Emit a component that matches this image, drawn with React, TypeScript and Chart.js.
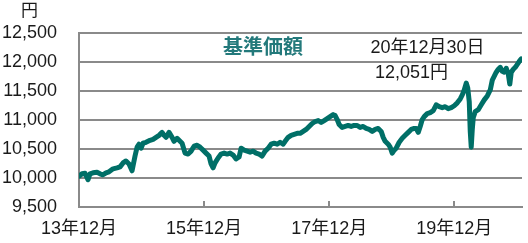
import React, { useEffect, useRef } from "react";
import { Chart, registerables } from "chart.js";

Chart.register(...registerables);

// x positions: months elapsed since 2013-12
const monthsSince201312: number[] = [
  0, 0.58, 1.15, 1.73, 2.11, 2.69, 3.46, 4.03, 4.61, 5.18, 5.76, 6.53, 7.3, 7.87, 8.45, 9.02, 9.6, 10.18,
  10.75, 11.14, 11.52, 11.9, 12.29, 12.86, 13.63, 14.21, 14.78, 15.36, 15.94, 16.32, 16.7, 17.28, 17.86,
  18.24, 18.82, 19.39, 19.78, 20.35, 20.93, 21.5, 22.08, 22.66, 23.23, 23.81, 24.38, 24.96, 25.34, 25.73,
  26.11, 26.69, 27.26, 27.84, 28.42, 28.99, 29.57, 30.14, 30.72, 31.1, 31.68, 32.26, 32.83, 33.41, 33.98,
  34.56, 35.14, 35.71, 36.29, 36.86, 37.44, 38.02, 38.59, 39.17, 39.55, 40.13, 40.7, 41.28, 41.86, 42.43,
  43.01, 43.58, 44.16, 44.74, 45.31, 45.89, 46.46, 47.04, 47.62, 48.19, 48.77, 49.15, 49.54, 49.92, 50.5,
  51.07, 51.65, 52.22, 52.8, 53.38, 53.95, 54.53, 55.1, 55.68, 56.26, 56.83, 57.41, 57.98, 58.37, 58.75,
  59.33, 59.71, 60.1, 60.48, 60.86, 61.44, 62.02, 62.59, 63.17, 63.74, 64.32, 64.7, 65.09, 65.47, 65.86,
  66.24, 66.82, 67.39, 67.97, 68.54, 69.12, 69.7, 70.27, 70.85, 71.42, 72.0, 72.58, 73.15, 73.54, 73.92,
  74.3, 74.59, 74.88, 75.07, 75.26, 75.46, 75.65, 76.03, 76.61, 77.18, 77.76, 78.34, 78.91, 79.3, 79.68,
  80.06, 80.45, 80.83, 81.22, 81.6, 81.98, 82.37, 82.66, 82.94, 83.33, 83.71, 84.1, 84.48, 84.86,
];

// 基準価額 (円)
const navValues: number[] = [
  10030, 10072, 10080, 9970, 10072, 10089, 10097, 10072, 10055, 10089, 10106, 10157, 10174, 10191, 10259,
  10293, 10242, 10123, 10378, 10530, 10581, 10513, 10598, 10615, 10649, 10666, 10700, 10734, 10785, 10734,
  10700, 10785, 10700, 10632, 10683, 10632, 10598, 10428, 10411, 10462, 10547, 10564, 10530, 10479, 10428,
  10378, 10242, 10174, 10259, 10344, 10411, 10428, 10411, 10428, 10394, 10327, 10361, 10513, 10479, 10462,
  10445, 10462, 10428, 10411, 10378, 10462, 10513, 10581, 10598, 10581, 10615, 10581, 10632, 10700, 10734,
  10751, 10768, 10768, 10802, 10836, 10887, 10938, 10972, 10989, 10955, 10989, 11023, 11057, 11091, 11074,
  11006, 10921, 10870, 10887, 10904, 10887, 10904, 10904, 10870, 10887, 10853, 10836, 10802, 10836, 10853,
  10802, 10700, 10632, 10581, 10530, 10428, 10479, 10513, 10615, 10683, 10734, 10785, 10836, 10853, 10853,
  10785, 10887, 11006, 11057, 11108, 11125, 11159, 11260, 11227, 11210, 11227, 11193, 11210, 11244, 11294,
  11362, 11430, 11515, 11634, 11549, 11311, 10802, 10530, 10836, 11040, 11142, 11176, 11260, 11345, 11413,
  11515, 11685, 11753, 11821, 11872, 11906, 11838, 11821, 11889, 11787, 11617, 11821, 11872, 11906, 11957,
  12008, 12051,
];

const xTickValues: number[] = [0, 24, 48, 72];
const xTickLabels: string[] = ["13年12月", "15年12月", "17年12月", "19年12月"];

const titleText = "基準価額";
const dateText = "20年12月30日";
const lastValueText = "12,051円";
const unitText = "円";

const FONT = "'Liberation Sans', 'Noto Sans CJK JP', sans-serif";
const TEAL = "#006f67";
const GRID = "#8a8a8a";

const overlayPlugin = {
  id: "overlay",
  afterDraw(chart: any) {
    const { ctx } = chart;
    const xs = chart.scales.x;
    const area = chart.chartArea;
    ctx.save();
    // inner tick marks
    ctx.strokeStyle = GRID;
    ctx.lineWidth = 2;
    xTickValues.forEach((v) => {
      const px = Math.round(xs.getPixelForValue(v));
      ctx.beginPath();
      ctx.moveTo(px, area.bottom);
      ctx.lineTo(px, area.bottom - 6);
      ctx.stroke();
    });
    // texts
    ctx.textAlign = "center";
    ctx.textBaseline = "middle";
    ctx.fillStyle = "#1a1a1a";
    ctx.font = `17px ${FONT}`;
    ctx.fillText(unitText, 29.5, 11);
    ctx.font = `bold 20px ${FONT}`;
    ctx.fillStyle = "#23797b";
    ctx.fillText(titleText, 263, 48);
    ctx.fillStyle = "#1a1a1a";
    ctx.font = `18px ${FONT}`;
    ctx.fillText(dateText, 427.5, 48);
    ctx.fillText(lastValueText, 411.5, 73);
    ctx.restore();
  },
};

export default function App() {
  const canvasRef = useRef<HTMLCanvasElement | null>(null);

  useEffect(() => {
    if (!canvasRef.current) return;
    const data = monthsSince201312.map((m, i) => ({ x: m, y: navValues[i] }));
    const chart = new Chart(canvasRef.current, {
      type: "line",
      data: {
        datasets: [
          {
            data,
            borderColor: TEAL,
            borderWidth: 5,
            pointRadius: 0,
            tension: 0,
            borderJoinStyle: "round",
            borderCapStyle: "round",
          },
        ],
      },
      options: {
        animation: false,
        responsive: false,
        maintainAspectRatio: false,
        layout: { padding: { top: 30, right: 6, left: 0, bottom: 0 } },
        plugins: { legend: { display: false }, tooltip: { enabled: false } },
        scales: {
          x: {
            type: "linear",
            min: 0,
            max: 85,
            afterBuildTicks: (scale: any) => {
              scale.ticks = xTickValues.map((v) => ({ value: v }));
            },
            afterFit: (scale: any) => {
              scale.height = 36;
            },
            ticks: {
              autoSkip: false,
              maxRotation: 0,
              padding: 11,
              color: "#1a1a1a",
              font: { family: FONT, size: 18 },
              callback: (v: any) => {
                const i = xTickValues.indexOf(Number(v));
                return i >= 0 ? xTickLabels[i] : "";
              },
            },
            grid: { display: false, drawTicks: false },
            border: { display: true, color: GRID, width: 2 },
          },
          y: {
            min: 9500,
            max: 12500,
            afterFit: (scale: any) => {
              scale.width = 79;
            },
            ticks: {
              stepSize: 500,
              padding: 22,
              color: "#1a1a1a",
              font: { family: FONT, size: 18 },
              callback: (v: any) => Number(v).toLocaleString("en-US"),
            },
            grid: { color: GRID, lineWidth: 2, drawTicks: false },
            border: { display: true, color: GRID, width: 2 },
          },
        },
      },
      plugins: [overlayPlugin],
    });
    return () => chart.destroy();
  }, []);

  return (
    <div style={{ position: "fixed", left: 0, top: 0, width: 528, height: 243, background: "#fff" }}>
      <canvas ref={canvasRef} width={528} height={243} style={{ width: 528, height: 243 }} />
    </div>
  );
}
